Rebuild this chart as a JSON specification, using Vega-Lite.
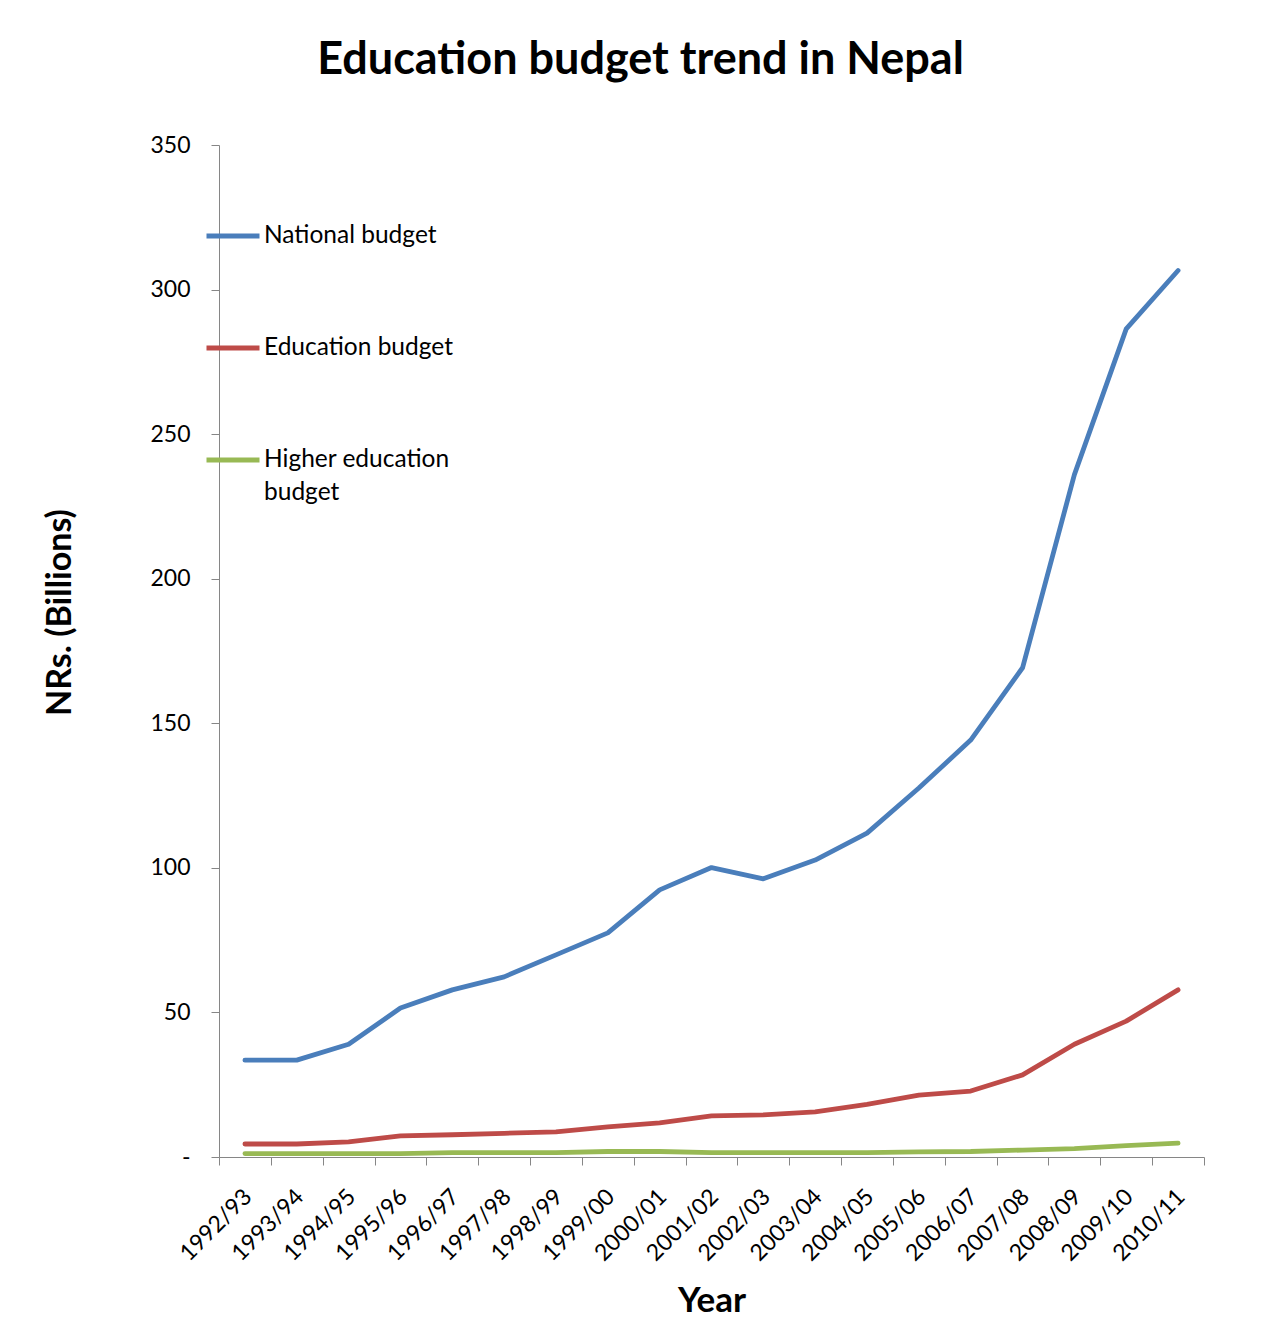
{
  "$schema": "https://vega.github.io/schema/vega-lite/v6.json",
  "width": 985,
  "height": 1012,
  "autosize": {"type": "none"},
  "padding": {"left": 219, "top": 145, "right": 65, "bottom": 160},
  "background": "white",
  "config": {
    "font": "Lato",
    "view": {"stroke": null},
    "style": {"guide-label": {"lineHeight": 33}}
  },
  "title": {
    "text": "Education budget trend in Nepal",
    "fontSize": 45,
    "fontWeight": "bold",
    "color": "black",
    "anchor": "middle",
    "frame": "group",
    "dx": -71,
    "baseline": "alphabetic",
    "offset": 15
  },
  "data": {
    "values": [
      {"year": "1992/93", "series": "National budget", "value": 33.5},
      {"year": "1993/94", "series": "National budget", "value": 33.5},
      {"year": "1994/95", "series": "National budget", "value": 39},
      {"year": "1995/96", "series": "National budget", "value": 51.5},
      {"year": "1996/97", "series": "National budget", "value": 57.8},
      {"year": "1997/98", "series": "National budget", "value": 62.3},
      {"year": "1998/99", "series": "National budget", "value": 69.9},
      {"year": "1999/00", "series": "National budget", "value": 77.5},
      {"year": "2000/01", "series": "National budget", "value": 92.4},
      {"year": "2001/02", "series": "National budget", "value": 100.1},
      {"year": "2002/03", "series": "National budget", "value": 96.2},
      {"year": "2003/04", "series": "National budget", "value": 102.7},
      {"year": "2004/05", "series": "National budget", "value": 112},
      {"year": "2005/06", "series": "National budget", "value": 127.6},
      {"year": "2006/07", "series": "National budget", "value": 144.2},
      {"year": "2007/08", "series": "National budget", "value": 169.2},
      {"year": "2008/09", "series": "National budget", "value": 236},
      {"year": "2009/10", "series": "National budget", "value": 286.4},
      {"year": "2010/11", "series": "National budget", "value": 306.6},
      {"year": "1992/93", "series": "Education budget", "value": 4.5},
      {"year": "1993/94", "series": "Education budget", "value": 4.5},
      {"year": "1994/95", "series": "Education budget", "value": 5.2},
      {"year": "1995/96", "series": "Education budget", "value": 7.3},
      {"year": "1996/97", "series": "Education budget", "value": 7.7},
      {"year": "1997/98", "series": "Education budget", "value": 8.2},
      {"year": "1998/99", "series": "Education budget", "value": 8.7},
      {"year": "1999/00", "series": "Education budget", "value": 10.4},
      {"year": "2000/01", "series": "Education budget", "value": 11.8},
      {"year": "2001/02", "series": "Education budget", "value": 14.2},
      {"year": "2002/03", "series": "Education budget", "value": 14.6},
      {"year": "2003/04", "series": "Education budget", "value": 15.6},
      {"year": "2004/05", "series": "Education budget", "value": 18.2},
      {"year": "2005/06", "series": "Education budget", "value": 21.4},
      {"year": "2006/07", "series": "Education budget", "value": 22.8},
      {"year": "2007/08", "series": "Education budget", "value": 28.4},
      {"year": "2008/09", "series": "Education budget", "value": 39},
      {"year": "2009/10", "series": "Education budget", "value": 47},
      {"year": "2010/11", "series": "Education budget", "value": 57.8},
      {"year": "1992/93", "series": "Higher education budget", "value": 1.2},
      {"year": "1993/94", "series": "Higher education budget", "value": 1.2},
      {"year": "1994/95", "series": "Higher education budget", "value": 1.2},
      {"year": "1995/96", "series": "Higher education budget", "value": 1.2},
      {"year": "1996/97", "series": "Higher education budget", "value": 1.5},
      {"year": "1997/98", "series": "Higher education budget", "value": 1.5},
      {"year": "1998/99", "series": "Higher education budget", "value": 1.5},
      {"year": "1999/00", "series": "Higher education budget", "value": 1.9},
      {"year": "2000/01", "series": "Higher education budget", "value": 1.9},
      {"year": "2001/02", "series": "Higher education budget", "value": 1.5},
      {"year": "2002/03", "series": "Higher education budget", "value": 1.5},
      {"year": "2003/04", "series": "Higher education budget", "value": 1.5},
      {"year": "2004/05", "series": "Higher education budget", "value": 1.5},
      {"year": "2005/06", "series": "Higher education budget", "value": 1.8},
      {"year": "2006/07", "series": "Higher education budget", "value": 1.9},
      {"year": "2007/08", "series": "Higher education budget", "value": 2.4},
      {"year": "2008/09", "series": "Higher education budget", "value": 2.9},
      {"year": "2009/10", "series": "Higher education budget", "value": 3.9},
      {"year": "2010/11", "series": "Higher education budget", "value": 4.8}
    ]
  },
  "mark": {"type": "line", "strokeWidth": 4.8, "strokeCap": "round", "strokeJoin": "round"},
  "encoding": {
    "x": {
      "field": "year",
      "type": "ordinal",
      "sort": null,
      "scale": {"type": "band", "paddingInner": 0, "paddingOuter": 0},
      "bandPosition": 0.5,
      "axis": {
        "title": "Year",
        "titleFontSize": 35,
        "titleFontWeight": "bold",
        "titleColor": "black",
        "titleY": 143,
        "titleBaseline": "middle",
        "labelAngle": -45,
        "labelFontSize": 23,
        "labelColor": "black",
        "labelPadding": 20,
        "labelOffset": -5,
        "labelOverlap": false,
        "tickBand": "extent",
        "tickSize": 8,
        "tickColor": "#868686",
        "domainColor": "#868686",
        "grid": false
      }
    },
    "y": {
      "field": "value",
      "type": "quantitative",
      "scale": {"domain": [0, 350], "nice": false},
      "axis": {
        "values": [0, 50, 100, 150, 200, 250, 300, 350],
        "labelExpr": "datum.value == 0 ? '-\u2007' : datum.label",
        "title": "NRs. (Billions)",
        "titleFontSize": 34,
        "titleFontWeight": "bold",
        "titleColor": "black",
        "titleX": -159,
        "titleY": 467,
        "titleAlign": "center",
        "titleBaseline": "middle",
        "labelFontSize": 23,
        "labelColor": "black",
        "labelPadding": 21,
        "tickSize": 8,
        "tickColor": "#868686",
        "domainColor": "#868686",
        "grid": false
      }
    },
    "color": {
      "field": "series",
      "type": "nominal",
      "scale": {
        "domain": ["National budget", "Education budget", "Higher education budget"],
        "range": ["#4A7EBB", "#BE4B48", "#98B954"]
      },
      "legend": {
        "title": null,
        "orient": "none",
        "legendX": -15,
        "legendY": 62,
        "padding": 0,
        "symbolType": "stroke",
        "symbolSize": 2809,
        "symbolStrokeWidth": 4.8,
        "labelFontSize": 24.5,
        "labelColor": "black",
        "labelOffset": 2,
        "labelLimit": 400,
        "rowPadding": 71,
        "labelExpr": "datum.label == 'Higher education budget' ? ['Higher education', 'budget'] : datum.label"
      }
    }
  }
}
